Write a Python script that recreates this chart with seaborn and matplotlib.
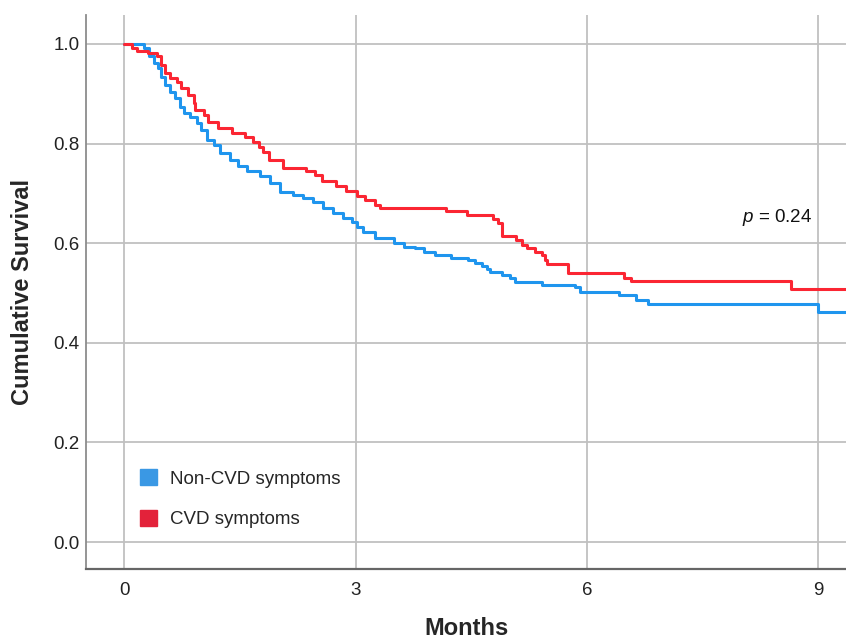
import pandas as pd
import numpy as np
import matplotlib
matplotlib.use("Agg")
import matplotlib.pyplot as plt
import seaborn as sns
from matplotlib.patches import Patch


# Kaplan-Meier step points (months, cumulative survival)
non_cvd_months = [0.00, 0.25, 0.32, 0.38, 0.44, 0.48, 0.53, 0.59, 0.66, 0.72, 0.77, 0.85, 0.94,
                  1.00, 1.07, 1.16, 1.24, 1.37, 1.47, 1.59, 1.76, 1.89, 2.02, 2.19, 2.32, 2.45,
                  2.58, 2.71, 2.84, 2.95, 3.01, 3.10, 3.25, 3.50, 3.63, 3.77, 3.88, 4.03, 4.24,
                  4.46, 4.55, 4.64, 4.70, 4.74, 4.90, 5.00, 5.07, 5.41, 5.84, 5.91, 6.41, 6.63,
                  6.79, 9.00, 9.50]
non_cvd_surv = [1.000, 0.991, 0.975, 0.961, 0.951, 0.934, 0.918, 0.904, 0.891, 0.874, 0.861, 0.854, 0.841,
                0.827, 0.807, 0.797, 0.781, 0.767, 0.755, 0.744, 0.734, 0.720, 0.703, 0.697, 0.690, 0.683,
                0.670, 0.660, 0.650, 0.643, 0.633, 0.623, 0.610, 0.600, 0.593, 0.590, 0.583, 0.576, 0.570,
                0.566, 0.561, 0.555, 0.549, 0.543, 0.536, 0.530, 0.523, 0.517, 0.512, 0.503, 0.496, 0.486,
                0.478, 0.462, 0.462]

cvd_months = [0.00, 0.10, 0.16, 0.31, 0.42, 0.48, 0.53, 0.59, 0.68, 0.74, 0.83, 0.90, 0.92,
              1.03, 1.09, 1.22, 1.39, 1.56, 1.67, 1.74, 1.80, 1.87, 2.06, 2.36, 2.47, 2.56,
              2.75, 2.88, 3.01, 3.12, 3.25, 3.32, 4.17, 4.44, 4.78, 4.84, 4.90, 5.08, 5.15,
              5.22, 5.33, 5.42, 5.46, 5.48, 5.75, 6.48, 6.57, 8.64, 9.50]
cvd_surv = [1.000, 0.991, 0.985, 0.981, 0.975, 0.958, 0.941, 0.931, 0.924, 0.911, 0.898, 0.881, 0.867,
            0.857, 0.844, 0.831, 0.821, 0.814, 0.804, 0.794, 0.784, 0.767, 0.750, 0.744, 0.736, 0.724,
            0.714, 0.704, 0.695, 0.686, 0.677, 0.670, 0.664, 0.656, 0.648, 0.640, 0.614, 0.607, 0.597,
            0.590, 0.583, 0.577, 0.566, 0.559, 0.541, 0.531, 0.524, 0.509, 0.509]

groups = ['Non-CVD symptoms', 'CVD symptoms']
line_colors = ['#1f95ee', '#fb2633']
legend_colors = ['#3a98e4', '#e3223a']
x_ticks = [0, 3, 6, 9]
y_ticks = [0.0, 0.2, 0.4, 0.6, 0.8, 1.0]
p_label = '$p$ = 0.24'

df = pd.concat([
    pd.DataFrame({'Months': non_cvd_months, 'Survival': non_cvd_surv, 'Group': groups[0]}),
    pd.DataFrame({'Months': cvd_months, 'Survival': cvd_surv, 'Group': groups[1]}),
], ignore_index=True)

sns.set_style('whitegrid')
plt.rcParams['font.family'] = ['Liberation Sans', 'DejaVu Sans']
plt.rcParams['mathtext.fontset'] = 'custom'
plt.rcParams['mathtext.rm'] = 'Liberation Sans'
plt.rcParams['mathtext.it'] = 'Liberation Sans:italic'

fig = plt.figure(figsize=(8.46, 6.4), dpi=100)
ax = fig.add_axes([0.1017, 0.1109, 0.8983, 0.8656])

sns.lineplot(data=df, x='Months', y='Survival', hue='Group', hue_order=groups,
             palette=dict(zip(groups, line_colors)), drawstyle='steps-post',
             linewidth=2.2, estimator=None, sort=False, legend=False, ax=ax)

ax.set_xlim(-0.497, 9.357)
ax.set_ylim(-0.054, 1.058)
ax.set_xticks(x_ticks)
ax.set_yticks(y_ticks)
ax.set_yticklabels([f'{v:.1f}' for v in y_ticks])
ax.tick_params(axis='both', length=0, labelsize=13.5, colors='#222222')
ax.tick_params(axis='y', pad=4.5)
ax.tick_params(axis='x', pad=9.5)

ax.grid(True, color='#c0c0c0', linewidth=1.3)
for side in ['top', 'right']:
    ax.spines[side].set_visible(False)
ax.spines['left'].set_color('#8c8c8c')
ax.spines['left'].set_linewidth(1.3)
ax.spines['bottom'].set_color('#666666')
ax.spines['bottom'].set_linewidth(1.6)

ax.set_xlabel('Months', fontsize=17, fontweight='bold', labelpad=13)
ax.set_ylabel('Cumulative Survival', fontsize=17, fontweight='bold', labelpad=14)

ax.text(8.47, 0.651, p_label, fontsize=13.5, ha='center', va='center', color='#111111')

handles = [Patch(facecolor=c, edgecolor=c) for c in legend_colors]
ax.legend(handles, groups, loc='upper left', bbox_to_anchor=(0.071, 0.18), frameon=False,
          fontsize=13.5, handlelength=0.9, handleheight=0.9, handletextpad=0.7,
          labelspacing=1.2, borderpad=0, borderaxespad=0)

fig.savefig('out.png', dpi=100)
